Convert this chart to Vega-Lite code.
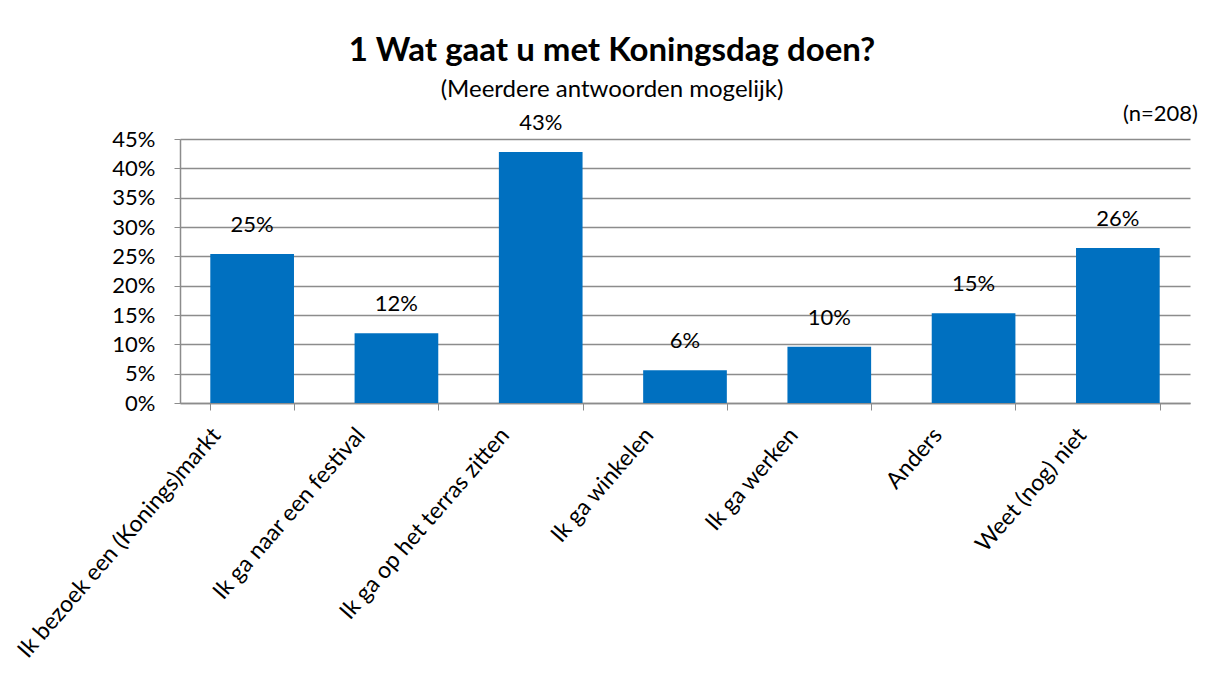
{
  "$schema": "https://vega.github.io/schema/vega-lite/v6.json",
  "autosize": "none",
  "width": 1010,
  "height": 264,
  "padding": {"left": 180, "top": 139, "right": 25, "bottom": 278},
  "background": "white",
  "title": {
    "text": "1 Wat gaat u met Koningsdag doen?",
    "subtitle": "(Meerdere antwoorden mogelijk)",
    "anchor": "middle",
    "frame": "group",
    "dx": -73,
    "offset": 1,
    "font": "Lato",
    "fontSize": 33,
    "fontWeight": "bold",
    "color": "black",
    "subtitleFont": "Lato",
    "subtitleFontSize": 24,
    "subtitleColor": "black",
    "subtitlePadding": 10
  },
  "data": {
    "values": [
      {"cat": "Ik bezoek een (Konings)markt", "value": 0.254},
      {"cat": "Ik ga naar een festival", "value": 0.119},
      {"cat": "Ik ga op het terras zitten", "value": 0.428},
      {"cat": "Ik ga winkelen", "value": 0.056},
      {"cat": "Ik ga werken", "value": 0.096},
      {"cat": "Anders", "value": 0.153},
      {"cat": "Weet (nog) niet", "value": 0.264}
    ]
  },
  "encoding": {
    "x": {
      "field": "cat",
      "type": "nominal",
      "sort": null,
      "scale": {"paddingInner": 0.42, "paddingOuter": 0.21},
      "axis": {
        "title": null,
        "labelAngle": -49,
        "labelAlign": "right",
        "labelBaseline": "middle",
        "labelFont": "Lato",
        "labelFontSize": 23,
        "labelColor": "black",
        "labelPadding": 21,
        "labelOffset": -36,
        "labelLimit": 0,
        "tickBand": "extent",
        "tickSize": 7,
        "tickColor": "#8c8c8c",
        "domainColor": "#8c8c8c",
        "domainWidth": 1.5,
        "grid": false
      }
    },
    "y": {
      "field": "value",
      "type": "quantitative",
      "scale": {"domain": [0, 0.45], "nice": false},
      "axis": {
        "title": null,
        "values": [0, 0.05, 0.1, 0.15, 0.2, 0.25, 0.3, 0.35, 0.4, 0.45],
        "format": ".0%",
        "labelFont": "Lato",
        "labelFontSize": 22,
        "labelColor": "black",
        "labelPadding": 19,
        "tickSize": 6,
        "tickColor": "#8c8c8c",
        "domainColor": "#8c8c8c",
        "domainWidth": 1.5,
        "grid": true,
        "gridColor": "#8c8c8c",
        "gridWidth": 1.5
      }
    }
  },
  "layer": [
    {"mark": {"type": "bar", "color": "#0070C0"}},
    {
      "mark": {"type": "text", "baseline": "bottom", "dy": -17, "font": "Lato", "fontSize": 22, "color": "black"},
      "encoding": {"text": {"field": "value", "format": ".0%"}}
    },
    {
      "data": {"values": [{"note": "(n=208)", "cat": "Weet (nog) niet", "value": 0.45}]},
      "mark": {"type": "text", "align": "right", "baseline": "middle", "dx": 80, "dy": -25, "font": "Lato", "fontSize": 22, "color": "black"},
      "encoding": {"text": {"field": "note"}}
    }
  ],
  "config": {"view": {"stroke": null}}
}
